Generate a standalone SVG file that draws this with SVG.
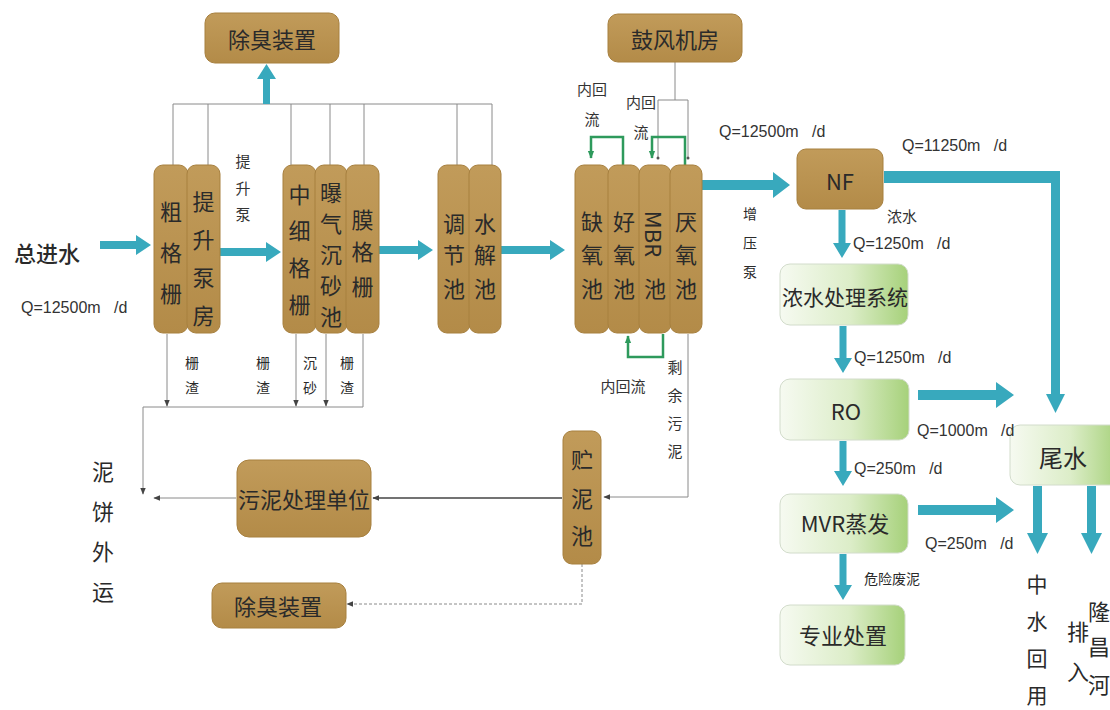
<svg xmlns="http://www.w3.org/2000/svg" width="1110" height="710" viewBox="0 0 1110 710">
<style>
.tan{fill:url(#tg);stroke:#a7803f;stroke-width:1}
.grn{fill:url(#gg);stroke:#d2dccb;stroke-width:1}
.t{font-family:"Noto Sans CJK SC",sans-serif;fill:#2a2a2a;text-anchor:middle;dominant-baseline:central}
.c{font-size:22px}
.b{font-size:21px}
.s{font-size:15px;fill:#333}
.q{font-family:"Liberation Sans",sans-serif;font-size:16px;fill:#333;dominant-baseline:central}
.teal{fill:#38a9bd}
.thin{stroke:#8a8a8a;stroke-width:1;fill:none}
.dark{stroke:#444;stroke-width:1.3;fill:none}
.gl{stroke:#2e9a5c;stroke-width:2.5;fill:none}
</style>
<defs>
<linearGradient id="tg" x1="0" y1="0" x2="0" y2="1"><stop offset="0" stop-color="#c19b5a"/><stop offset="1" stop-color="#b38b48"/></linearGradient>
<linearGradient id="gg" x1="0" y1="0" x2="1" y2="0"><stop offset="0" stop-color="#f6faf1"/><stop offset="0.55" stop-color="#dcedc8"/><stop offset="1" stop-color="#a6d17a"/></linearGradient>
<marker id="ah" viewBox="0 0 10 10" refX="9" refY="5" markerWidth="7" markerHeight="7" orient="auto" markerUnits="userSpaceOnUse"><path d="M0,1 L10,5 L0,9 Z" fill="#444"/></marker>
<marker id="ahg" viewBox="0 0 10 10" refX="9" refY="5" markerWidth="8" markerHeight="8" orient="auto" markerUnits="userSpaceOnUse"><path d="M0,1 L10,5 L0,9 Z" fill="#2e9a5c"/></marker>
</defs>

<g id="connectors">
<path class="thin" d="M173,104 H492 M173,104 V166 M208,104 V166 M291,104 V166 M330,104 V166 M364,104 V166 M457,104 V166 M492,104 V166"/>
<path class="teal" d="M263,104 V79 H257 L266.5,64 L276,79 H270 V104 Z"/>
<path class="thin" d="M675,62 V100 M658,100 H688 M658,100 V158 M688,100 V158"/>
<circle cx="658" cy="158" r="1.5" fill="#555"/>
<circle cx="688" cy="158" r="1.5" fill="#555"/>
<path class="gl" d="M623,166 V137 H591 V158" marker-end="url(#ahg)"/>
<path class="gl" d="M685,166 V137 H652 V158" marker-end="url(#ahg)"/>
<path class="gl" d="M663,334 V357 H628 V336" marker-end="url(#ahg)"/>
<path class="teal" d="M100,241 H136 V235 L151,245 L136,255 V249 H100 Z"/>
<path class="teal" d="M218,248 H266 V242 L281,252 L266,262 V256 H218 Z"/>
<path class="teal" d="M378,246 H418 V240 L433,250 L418,260 V254 H378 Z"/>
<path class="teal" d="M501,246 H550 V240 L565,250 L550,260 V254 H501 Z"/>
<path class="teal" d="M702,180 H773 V172 L790,185 L773,198 V190 H702 Z"/>
<path class="teal" d="M884,171 H1060 V394 H1065 L1055.5,413 L1046,394 H1051 V183 H884 Z"/>
<path class="teal" d="M838.5,210 V243 H833 L842,258 L851,243 H845.5 V210 Z"/>
<path class="teal" d="M839.5,326 V358 H834 L843,373 L852,358 H846.5 V326 Z"/>
<path class="teal" d="M839.5,441 V471 H834 L843,486 L852,471 H846.5 V441 Z"/>
<path class="teal" d="M839.5,554 V585 H834 L843,600 L852,585 H846.5 V554 Z"/>
<path class="teal" d="M918,390 H996 V382 L1014,395 L996,408 V400 H918 Z"/>
<path class="teal" d="M918,505 H996 V497 L1014,510 L996,523 V515 H918 Z"/>
<path class="teal" d="M1033,486 V533 H1027 L1037.5,554 L1048,533 H1042 V486 Z"/>
<path class="teal" d="M1087,486 V533 H1081 L1091.5,554 L1102,533 H1096 V486 Z"/>
<path class="thin" d="M143,407 H363 M363,334 V407"/>
<path class="thin" d="M167,334 V406" marker-end="url(#ah)"/>
<path class="thin" d="M296,334 V406" marker-end="url(#ah)"/>
<path class="thin" d="M326,334 V406" marker-end="url(#ah)"/>
<path class="thin" d="M143,407 V494" marker-end="url(#ah)"/>
<path class="thin" d="M688,334 V497 H604" marker-end="url(#ah)"/>
<path class="dark" d="M562,498 H373" marker-end="url(#ah)"/>
<path class="thin" d="M236,498 H154" marker-end="url(#ah)"/>
<path class="thin" d="M582,564 V604 H347" stroke-dasharray="3,2" marker-end="url(#ah)"/>
</g>

<g id="odor-top"><rect class="tan" x="205" y="13" width="134" height="50" rx="10"/><text class="t c" x="272" y="38">除臭装置</text></g>
<g id="blower"><rect class="tan" x="608" y="14" width="134" height="48" rx="10"/><text class="t c" x="675" y="38">鼓风机房</text></g>

<g id="coarse-screen"><rect class="tan" x="154" y="165" width="34" height="168" rx="9"/><text class="t c"><tspan x="171" y="210">粗</tspan><tspan x="171" y="251">格</tspan><tspan x="171" y="292">栅</tspan></text></g>
<g id="lift-pump"><rect class="tan" x="187" y="165" width="33" height="168" rx="9"/><text class="t c"><tspan x="203.5" y="200">提</tspan><tspan x="203.5" y="238">升</tspan><tspan x="203.5" y="276">泵</tspan><tspan x="203.5" y="314">房</tspan></text></g>
<g id="fine-screen"><rect class="tan" x="283" y="165" width="33" height="168" rx="9"/><text class="t c"><tspan x="299.5" y="193">中</tspan><tspan x="299.5" y="229">细</tspan><tspan x="299.5" y="266">格</tspan><tspan x="299.5" y="303">栅</tspan></text></g>
<g id="grit"><rect class="tan" x="315" y="165" width="32" height="168" rx="9"/><text class="t c"><tspan x="331" y="191">曝</tspan><tspan x="331" y="222">气</tspan><tspan x="331" y="253">沉</tspan><tspan x="331" y="284">砂</tspan><tspan x="331" y="315">池</tspan></text></g>
<g id="membrane-screen"><rect class="tan" x="346" y="165" width="33" height="168" rx="9"/><text class="t c"><tspan x="362.5" y="218">膜</tspan><tspan x="362.5" y="250">格</tspan><tspan x="362.5" y="285">栅</tspan></text></g>
<g id="equalization"><rect class="tan" x="438" y="165" width="32" height="168" rx="9"/><text class="t c"><tspan x="454" y="222">调</tspan><tspan x="454" y="253">节</tspan><tspan x="454" y="287">池</tspan></text></g>
<g id="hydrolysis"><rect class="tan" x="469" y="165" width="32" height="168" rx="9"/><text class="t c"><tspan x="485" y="222">水</tspan><tspan x="485" y="253">解</tspan><tspan x="485" y="287">池</tspan></text></g>
<g id="anoxic"><rect class="tan" x="575" y="165" width="34" height="168" rx="9"/><text class="t c"><tspan x="592" y="220">缺</tspan><tspan x="592" y="253">氧</tspan><tspan x="592" y="287">池</tspan></text></g>
<g id="aerobic"><rect class="tan" x="608" y="165" width="32" height="168" rx="9"/><text class="t c"><tspan x="624" y="220">好</tspan><tspan x="624" y="253">氧</tspan><tspan x="624" y="287">池</tspan></text></g>
<g id="mbr"><rect class="tan" x="639" y="165" width="32" height="168" rx="9"/><text class="t c" transform="translate(655,234) rotate(90)" x="0" y="0">MBR</text><text class="t c" x="655" y="287">池</text></g>
<g id="anaerobic"><rect class="tan" x="670" y="165" width="32" height="168" rx="9"/><text class="t c"><tspan x="686" y="220">厌</tspan><tspan x="686" y="253">氧</tspan><tspan x="686" y="287">池</tspan></text></g>

<g id="nf"><rect class="tan" x="797" y="149" width="86" height="60" rx="9"/><text class="t" x="840" y="180" font-size="22">NF</text></g>
<g id="concentrate"><rect class="grn" x="780" y="264" width="128" height="61" rx="10"/><text class="t b" x="845" y="296">浓水处理系统</text></g>
<g id="ro"><rect class="grn" x="780" y="379" width="129" height="61" rx="10"/><text class="t" x="846" y="410" font-size="22">RO</text></g>
<g id="mvr"><rect class="grn" x="780" y="494" width="128" height="59" rx="10"/><text class="t" x="845" y="522" font-size="22">MVR蒸发</text></g>
<g id="disposal"><rect class="grn" x="780" y="605" width="125" height="60" rx="10"/><text class="t c" x="843" y="634">专业处置</text></g>
<g id="tailwater"><rect class="grn" x="1010" y="425" width="110" height="60" rx="10"/><text class="t" x="1063" y="456" font-size="24">尾水</text></g>

<g id="sludge-unit"><rect class="tan" x="237" y="460" width="134" height="77" rx="12"/><text class="t c" x="304" y="498">污泥处理单位</text></g>
<g id="sludge-tank"><rect class="tan" x="563" y="431" width="38" height="133" rx="9"/><text class="t c"><tspan x="582" y="458">贮</tspan><tspan x="582" y="497">泥</tspan><tspan x="582" y="534">池</tspan></text></g>
<g id="odor-bottom"><rect class="tan" x="212" y="583" width="134" height="45" rx="10"/><text class="t c" x="278" y="605">除臭装置</text></g>

<g id="labels">
<text class="t" x="47" y="252" font-size="22" font-weight="500">总进水</text>
<text class="q" x="21" y="307">Q=12500m&#160;&#160;&#160;/d</text>
<text class="t s"><tspan x="243" y="160">提</tspan><tspan x="243" y="187">升</tspan><tspan x="243" y="213">泵</tspan></text>
<text class="t" font-size="14"><tspan x="192" y="362">栅</tspan><tspan x="192" y="387">渣</tspan></text>
<text class="t" font-size="14"><tspan x="263" y="362">栅</tspan><tspan x="263" y="387">渣</tspan></text>
<text class="t" font-size="14"><tspan x="310" y="362">沉</tspan><tspan x="310" y="387">砂</tspan></text>
<text class="t" font-size="14"><tspan x="347" y="362">栅</tspan><tspan x="347" y="387">渣</tspan></text>
<text class="t c"><tspan x="103" y="470">泥</tspan><tspan x="103" y="510">饼</tspan><tspan x="103" y="550">外</tspan><tspan x="103" y="590">运</tspan></text>
<text class="t s"><tspan x="592" y="88">内回</tspan><tspan x="592" y="118">流</tspan></text>
<text class="t s"><tspan x="641" y="101">内回</tspan><tspan x="641" y="131">流</tspan></text>
<text class="t s" x="623" y="385">内回流</text>
<text class="t s"><tspan x="675" y="366">剩</tspan><tspan x="675" y="394">余</tspan><tspan x="675" y="422">污</tspan><tspan x="675" y="450">泥</tspan></text>
<text class="q" x="719" y="131">Q=12500m&#160;&#160;&#160;/d</text>
<text class="q" x="902" y="145">Q=11250m&#160;&#160;&#160;/d</text>
<text class="t" font-size="14"><tspan x="750" y="213">增</tspan><tspan x="750" y="242">压</tspan><tspan x="750" y="271">泵</tspan></text>
<text class="t s" x="902" y="215">浓水</text>
<text class="q" x="853" y="243">Q=1250m&#160;&#160;&#160;/d</text>
<text class="q" x="854" y="357">Q=1250m&#160;&#160;&#160;/d</text>
<text class="q" x="917" y="430">Q=1000m&#160;&#160;&#160;/d</text>
<text class="q" x="854" y="468">Q=250m&#160;&#160;&#160;/d</text>
<text class="q" x="925" y="543">Q=250m&#160;&#160;&#160;/d</text>
<text class="t" font-size="14" x="892" y="578">危险废泥</text>
<text class="t" font-size="21"><tspan x="1037" y="583">中</tspan><tspan x="1037" y="620">水</tspan><tspan x="1037" y="657">回</tspan><tspan x="1037" y="694">用</tspan></text>
<text class="t c"><tspan x="1078" y="630">排</tspan><tspan x="1078" y="670">入</tspan></text>
<text class="t c"><tspan x="1099" y="610">隆</tspan><tspan x="1099" y="645">昌</tspan><tspan x="1099" y="683">河</tspan></text>
</g>
</svg>
